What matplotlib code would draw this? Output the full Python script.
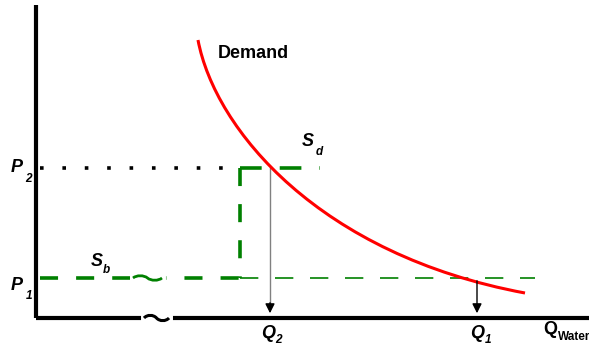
import numpy as np
import matplotlib
matplotlib.use("Agg")
import matplotlib.pyplot as plt
from matplotlib.path import Path
from matplotlib.patches import PathPatch

# schematic in image units (x right, y down), origin of the axes at (36, 318)
x_axis = [36, 589]
y_axis = [5, 318]
axis_y = 318
axis_x = 36

P1 = 278
P2 = 168
Q1 = 477
Q2 = 270
step_x = 240
Sb_end = 535
Sd_end = 320

# demand curve as cubic bezier control points
demand_x = [198, 215, 320, 525]
demand_y = [40, 130, 255, 293]

font = ["Liberation Sans", "DejaVu Sans"]

fig = plt.figure(figsize=(5.89, 3.52), dpi=100)
ax = fig.add_axes([0, 0, 1, 1])
ax.set_xlim(0, 589)
ax.set_ylim(352, 0)
ax.axis("off")

# axes
ax.plot([axis_x, axis_x], y_axis, color="black", lw=3, solid_capstyle="butt")
ax.plot(x_axis, [axis_y, axis_y], color="black", lw=3, solid_capstyle="butt")


def squiggle(x0, x1, y, color, lw, amp=4):
    # small break mark drawn as two bezier bumps
    w = (x1 - x0) / 4.0
    verts = [(x0, y), (x0 + w * 0.5, y - amp), (x0 + w * 1.5, y - amp), (x0 + 2 * w, y),
             (x0 + w * 2.5, y + amp), (x0 + w * 3.5, y + amp), (x1, y)]
    codes = [Path.MOVETO] + [Path.CURVE4] * 6
    ax.add_patch(PathPatch(Path(verts, codes), fc="none", ec=color, lw=lw, zorder=5))


ax.plot([144, 169], [axis_y, axis_y], color="white", lw=5, zorder=4)
squiggle(144, 169, axis_y, "black", 2.2, amp=3.5)

# price levels
ax.plot([axis_x + 4, step_x], [P2, P2], color="black", lw=2.6,
        linestyle=(0, (1, 5.2)))
ax.plot([axis_x + 4, step_x], [P1, P1], color="green", lw=2.6,
        linestyle=(0, (5, 5)))
ax.plot([133, 162], [P1, P1], color="white", lw=5, zorder=4)
squiggle(133, 162, P1, "green", 2, amp=3)
ax.plot([step_x, step_x], [P2, P1], color="green", lw=2.6, linestyle=(0, (5, 5)))
ax.plot([step_x, Sd_end], [P2, P2], color="green", lw=2.6, linestyle=(0, (6, 5)))
ax.plot([step_x, Sb_end], [P1, P1], color="green", lw=1.2, linestyle=(0, (11, 10)))

# demand
verts = list(zip(demand_x, demand_y))
ax.add_patch(PathPatch(Path(verts, [Path.MOVETO] + [Path.CURVE4] * 3),
                       fc="none", ec="red", lw=2.2, zorder=3))

# arrows to quantities
ax.plot([Q2, Q2], [P2, 305], color="gray", lw=1)
ax.annotate("", xy=(Q2, 316), xytext=(Q2, 300),
            arrowprops=dict(arrowstyle="-|>", color="black", lw=1, mutation_scale=14))
ax.annotate("", xy=(Q1, 316), xytext=(Q1, P1),
            arrowprops=dict(arrowstyle="-|>", color="black", lw=1, mutation_scale=14))

# labels
ax.text(218, 53, "Demand", fontsize=13, fontweight="bold", family=font,
        ha="left", va="center")


def label(x, y, main, sub, sx, sy, italic=True, size=13, subsize=8.5):
    style = "italic" if italic else "normal"
    ax.text(x, y, main, fontsize=size, fontweight="bold", style=style,
            family=font, ha="left", va="center")
    ax.text(sx, sy, sub, fontsize=subsize, fontweight="bold", style=style,
            family=font, ha="left", va="center")


label(11, 168, "P", "2", 25, 179.5)
label(11, 286, "P", "1", 26, 296)
label(91, 262, "S", "b", 103, 270)
label(302, 141, "S", "d", 316, 152)
label(261, 334, "Q", "2", 275, 340)
label(470, 334, "Q", "1", 485, 340)
label(543, 329, "Q", "Water", 558, 337, italic=False, subsize=8.5)

fig.savefig("out.png", dpi=100)
